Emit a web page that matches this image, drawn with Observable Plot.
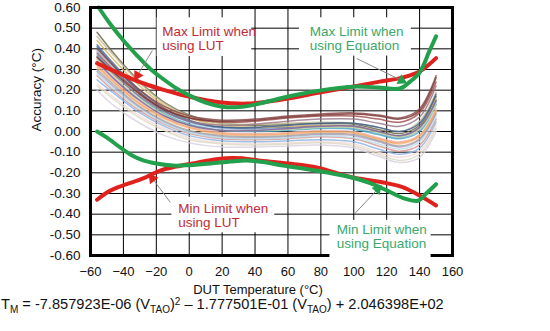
<!DOCTYPE html>
<html><head><meta charset="utf-8">
<script src="https://cdn.jsdelivr.net/npm/d3@7"></script>
<script src="https://cdn.jsdelivr.net/npm/@observablehq/plot@0.6"></script>
<style>
html,body{margin:0;padding:0;background:#fff;}
#wrap{position:relative;width:550px;height:331px;font-family:Arial,"Liberation Sans",sans-serif;overflow:hidden;}
#xlabel{position:absolute;left:0;width:516px;text-align:center;top:283px;font-size:13px;line-height:13px;color:#111;}
#eq{position:absolute;left:1px;top:297px;font-size:14.6px;line-height:14px;white-space:nowrap;color:#111;}
#eq sub,#eq sup{font-size:10px;line-height:0;}
#eq sup{vertical-align:4px;}
</style></head>
<body><div id="wrap"><div id="chart"></div>
<div id="xlabel">DUT Temperature (°C)</div>
<div id="eq">T<sub>M</sub> = -7.857923E-06 (V<sub>TAO</sub>)<sup>2</sup> – 1.777501E-01 (V<sub>TAO</sub>) + 2.046398E+02</div>
</div>
<script>
// ---- axis ticks ----
const xTicks = [-60,-40,-20,0,20,40,60,80,100,120,140,160];
const yTicks = [-0.6,-0.5,-0.4,-0.3,-0.2,-0.1,0,0.1,0.2,0.3,0.4,0.5,0.6];

// ---- measured device curves (bundle) ----
const bundleTemps = [-56,-45,-30,-15,0,20,40,60,80,100,115,128,140,150];
const bundleValues = [
  [0.48,0.37,0.24,0.14,0.08,0.04,0.03,0.035,0.04,0.035,0.01,-0.01,0.03,0.17],
  [0.46,0.36,0.235,0.135,0.075,0.04,0.035,0.04,0.045,0.04,0.02,0.0,0.05,0.19],
  [0.42,0.32,0.20,0.11,0.055,0.02,0.015,0.02,0.03,0.025,0.0,-0.02,0.02,0.15],
  [0.44,0.34,0.22,0.125,0.065,0.03,0.02,0.025,0.03,0.025,0.0,-0.02,0.02,0.16],
  [0.39,0.30,0.18,0.095,0.045,0.015,0.01,0.015,0.02,0.015,-0.01,-0.03,0.01,0.14],
  [0.37,0.28,0.165,0.085,0.035,0.005,0.0,0.005,0.015,0.01,-0.015,-0.035,0.0,0.13],
  [0.33,0.245,0.145,0.07,0.025,-0.005,-0.01,-0.005,0.005,0.0,-0.03,-0.05,-0.015,0.11],
  [0.31,0.23,0.13,0.06,0.015,-0.015,-0.02,-0.015,-0.005,-0.01,-0.04,-0.06,-0.025,0.10],
  [0.29,0.21,0.115,0.045,0.0,-0.025,-0.03,-0.025,-0.015,-0.02,-0.05,-0.075,-0.04,0.085],
  [0.35,0.26,0.155,0.08,0.03,0.005,0.005,0.01,0.02,0.02,-0.005,-0.025,0.01,0.13],
  [0.30,0.22,0.12,0.05,0.005,-0.02,-0.025,-0.02,-0.01,-0.015,-0.045,-0.07,-0.035,0.09],
  [0.27,0.19,0.10,0.035,-0.01,-0.035,-0.04,-0.035,-0.025,-0.035,-0.07,-0.095,-0.065,0.06],
  [0.28,0.20,0.11,0.04,-0.005,-0.03,-0.035,-0.03,-0.02,-0.03,-0.06,-0.085,-0.05,0.07],
  [0.25,0.18,0.09,0.025,-0.02,-0.045,-0.05,-0.045,-0.04,-0.05,-0.085,-0.11,-0.08,0.045],
  [0.23,0.16,0.075,0.015,-0.03,-0.055,-0.06,-0.055,-0.05,-0.06,-0.10,-0.125,-0.095,0.03],
  [0.22,0.15,0.065,0.005,-0.04,-0.06,-0.065,-0.06,-0.055,-0.07,-0.11,-0.14,-0.11,0.015],
  [0.20,0.12,0.04,-0.02,-0.055,-0.075,-0.075,-0.07,-0.065,-0.08,-0.12,-0.15,-0.125,0.0],
  [0.41,0.31,0.19,0.10,0.05,0.02,0.02,0.03,0.04,0.04,0.02,0.0,0.04,0.18],
  [0.34,0.25,0.15,0.075,0.03,0.005,0.005,0.015,0.025,0.025,0.0,-0.02,0.02,0.15],
  [0.32,0.235,0.135,0.065,0.02,-0.01,-0.015,-0.01,0.0,-0.005,-0.035,-0.055,-0.02,0.10],
  [0.36,0.27,0.17,0.095,0.05,0.03,0.035,0.05,0.06,0.06,0.04,0.025,0.07,0.22],
  [0.38,0.29,0.185,0.11,0.065,0.045,0.05,0.065,0.075,0.075,0.06,0.045,0.09,0.24],
  [0.36,0.28,0.18,0.105,0.065,0.05,0.055,0.07,0.08,0.085,0.075,0.06,0.10,0.26],
  [0.40,0.31,0.20,0.12,0.075,0.055,0.06,0.075,0.085,0.09,0.08,0.065,0.11,0.27]
];
const bundleColors = ["#6b6b50","#c4bd97","#5a7397","#d4b86a","#95b3d7","#4bacc6","#e6b9b8","#fac090",
  "#b3a2c7","#c3d69b","#a6a6a6","#d99694","#b7dee8","#8eb4e3","#f2dcdb","#ddd9c3","#d9d2e0","#3d5f8c",
  "#8064a2","#f5a66a","#9a7a8a","#a25250","#7a3a38","#8a4a48"];

// ---- limit curves ----
const maxLutT = [-56,-45,-35,-25,-15,-5,5,15,25,35,45,60,80,100,115,130,140,150];
const maxLutV = [0.33,0.29,0.255,0.225,0.2,0.178,0.16,0.145,0.137,0.135,0.142,0.16,0.19,0.218,0.24,0.262,0.29,0.355];
const maxEqT = [-55,-48,-40,-32,-24,-16,-8,0,10,20,30,40,55,70,85,100,115,128,134,140,146,150];
const maxEqV = [0.60,0.52,0.44,0.37,0.305,0.255,0.21,0.175,0.14,0.12,0.118,0.13,0.16,0.185,0.205,0.217,0.213,0.208,0.24,0.285,0.39,0.46];
const minLutT = [-56,-50,-45,-38,-28,-18,-8,2,12,22,32,42,60,78,98,118,130,140,150];
const minLutV = [-0.33,-0.295,-0.275,-0.255,-0.227,-0.19,-0.17,-0.155,-0.14,-0.13,-0.13,-0.14,-0.155,-0.175,-0.22,-0.247,-0.27,-0.31,-0.358];
const minEqT = [-56,-50,-42,-35,-28,-20,-10,0,13,25,35,45,57,70,85,100,110,120,130,139,144,150];
const minEqV = [0.0,-0.03,-0.077,-0.115,-0.14,-0.155,-0.165,-0.163,-0.155,-0.145,-0.14,-0.148,-0.165,-0.18,-0.2,-0.225,-0.25,-0.285,-0.322,-0.335,-0.3,-0.255];

// ---- annotations ----
const labelTexts = ["Max Limit when\nusing LUT","Max Limit when\nusing Equation","Min Limit when\nusing LUT","Min Limit when\nusing Equation"];
const labelX = [-16.4, 73.3, -6.7, 89.7];
const labelY = [0.511, 0.511, -0.345, -0.447];
const boxX1 = [-19.5, 67, -10.5, 85.5];
const boxX2 = [38, 135, 52, 147];
const boxY1 = [0.363, 0.365, -0.49, -0.635];
const boxY2 = [0.55, 0.55, -0.318, -0.43];
const ptrX1 = [-22.4, 101.8, -11.5, 100.6];
const ptrY1 = [0.392, 0.353, -0.343, -0.397];
const ptrX2 = [-31.5, 129.1, -22.4, 114.5];
const ptrY2 = [0.271, 0.247, -0.227, -0.28];
const ptrRot = [211, 116, -37, 44];

const RED = "#e0221e", GREEN = "#22a04c", RED_TXT = "#c42a35", GREEN_TXT = "#3aa86c";
const labelColors = [RED_TXT, GREEN_TXT, RED_TXT, GREEN_TXT];
const headColors = [RED, GREEN, RED, GREEN];

const toRows = (T, V) => T.map((t, i) => ({t, v: V[i]}));
const ann = labelTexts.map((s, i) => ({
  s, lx: labelX[i], ly: labelY[i], c: labelColors[i], hc: headColors[i],
  bx1: boxX1[i], bx2: boxX2[i], by1: boxY1[i], by2: boxY2[i],
  px1: ptrX1[i], py1: ptrY1[i], px2: ptrX2[i], py2: ptrY2[i], rot: ptrRot[i]
}));

const fmtX = d => d < 0 ? "\u2212" + (-d) : String(d);

const bundleMarks = bundleValues.map((vals, i) =>
  Plot.line(toRows(bundleTemps, vals), {x: "t", y: "v", stroke: bundleColors[i], strokeWidth: 1.5, strokeOpacity: 0.85, curve: "catmull-rom"}));

const chart = Plot.plot({
  width: 550, height: 282,
  marginLeft: 90, marginRight: 98, marginTop: 7, marginBottom: 27,
  style: {fontFamily: 'Arial, "Liberation Sans", sans-serif', fontSize: "13px", color: "#111", background: "white"},
  x: {domain: [-60, 160]},
  y: {domain: [-0.6, 0.6]},
  marks: [
    Plot.gridX(xTicks, {stroke: "#000", strokeOpacity: 1, strokeWidth: 1}),
    Plot.gridY(yTicks, {stroke: "#000", strokeOpacity: 1, strokeWidth: 1}),
    Plot.axisX(xTicks, {tickSize: 0, tickPadding: 11, tickFormat: fmtX, label: null, fontSize: 13}),
    Plot.axisY(yTicks, {tickSize: 0, tickPadding: 10, tickFormat: d => d.toFixed(2), label: null, fontSize: 13.5}),
    ...bundleMarks,
    Plot.line(toRows(maxLutT, maxLutV), {x: "t", y: "v", stroke: RED, strokeWidth: 4, curve: "catmull-rom"}),
    Plot.line(toRows(minLutT, minLutV), {x: "t", y: "v", stroke: RED, strokeWidth: 4, curve: "catmull-rom"}),
    Plot.line(toRows(maxEqT, maxEqV), {x: "t", y: "v", stroke: GREEN, strokeWidth: 4, curve: "catmull-rom"}),
    Plot.line(toRows(minEqT, minEqV), {x: "t", y: "v", stroke: GREEN, strokeWidth: 4, curve: "catmull-rom"}),
    Plot.frame({stroke: "#000", strokeWidth: 3}),
    Plot.rect(ann, {x1: "bx1", x2: "bx2", y1: "by1", y2: "by2", fill: "white"}),
    Plot.link(ann, {x1: "px1", y1: "py1", x2: "px2", y2: "py2", stroke: "#8a8a8a", strokeWidth: 1}),
    Plot.dot(ann, {x: "px2", y: "py2", symbol: "triangle", r: 4, fill: "hc", rotate: "rot", stroke: "none"}),
    Plot.text(ann, {x: "lx", y: "ly", text: "s", fill: "c", textAnchor: "start", lineAnchor: "top", lineHeight: 1.04, fontSize: 13.5}),
    Plot.text(["Accuracy (°C)"], {frameAnchor: "left", dx: -54, rotate: -90, fontSize: 13.5, fill: "#111"})
  ]
});
document.getElementById("chart").appendChild(chart);
</script>
</body></html>
